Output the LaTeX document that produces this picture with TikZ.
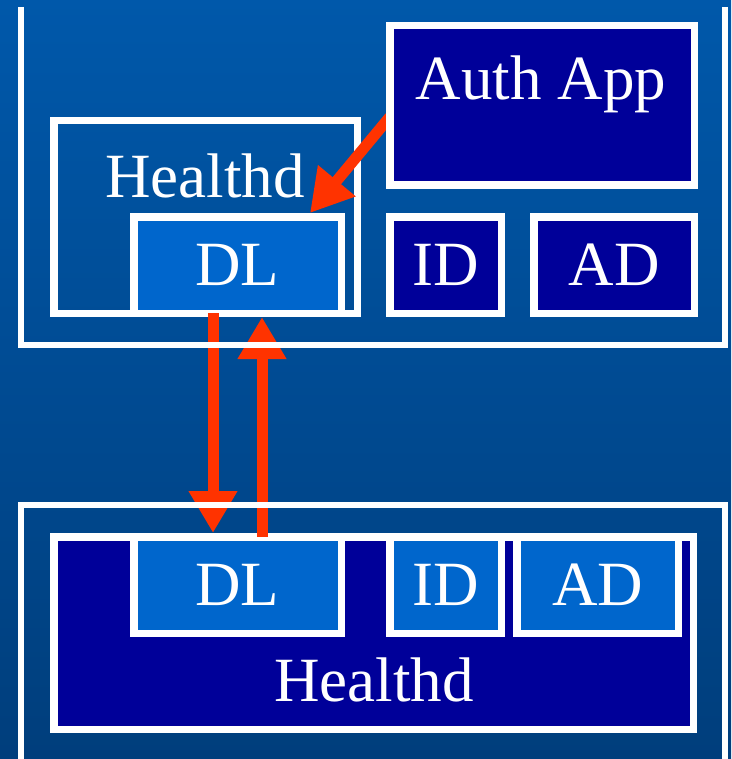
\documentclass[tikz,border=0pt]{standalone}
\usepackage{fontspec}
\setmainfont{Liberation Serif}
\usetikzlibrary{arrows.meta}
\definecolor{bgtop}{RGB}{0,88,170}
\definecolor{bgbot}{RGB}{0,62,124}
\definecolor{navy}{RGB}{0,0,153}
\definecolor{dlblue}{RGB}{0,102,204}
\definecolor{flowred}{RGB}{255,51,0}
\tikzset{
  box/.style={draw=white, line width=7.5pt, inner sep=0pt, outer sep=0pt,
    text=white, font=\fontsize{63}{70}\selectfont},
  lbl/.style={text=white, font=\fontsize{63}{70}\selectfont, inner sep=0pt, anchor=base},
  frameline/.style={draw=white, line width=5.5pt, line join=miter},
  flow/.style={draw=flowred, line width=11pt, -{Triangle[length=42pt,width=46pt]}},
}
\begin{document}
\begin{tikzpicture}[x=1pt,y=-1pt]
  % background
  \shade[top color=bgtop, bottom color=bgbot] (0,0) rectangle (731,759);
  \useasboundingbox (0,0) rectangle (731,759);

  % upper host
  \node[box, minimum width=303.5pt, minimum height=192.5pt] (upHealthd) at (205.5,217) {};
  \node[lbl] (upHealthdTxt) at (205,197) {Healthd};
  \node[box, fill=dlblue, minimum width=207.5pt, minimum height=96.5pt] (upDL) at (237.5,265) {DL};
  \node[box, fill=navy, minimum width=111.5pt, minimum height=96.5pt] (upID) at (445.5,265) {ID};
  \node[box, fill=navy, minimum width=160.5pt, minimum height=96.5pt] (upAD) at (614,265) {AD};

  % lower host
  \node[box, fill=navy, minimum width=639.5pt, minimum height=192.5pt] (loHealthd) at (373.5,633) {};
  \node[lbl] (loHealthdTxt) at (374,701) {Healthd};
  \node[box, fill=dlblue, minimum width=207.5pt, minimum height=96.5pt] (loDL) at (237.5,585) {DL};
  \node[box, fill=dlblue, minimum width=111.5pt, minimum height=96.5pt] (loID) at (445.5,585) {ID};
  \node[box, fill=dlblue, minimum width=161.5pt, minimum height=96.5pt] (loAD) at (597.5,585) {AD};

  % flows between the data layers
  \draw[flow] ([xshift=-24.5pt]upDL.south) -- ([xshift=-24.5pt,yshift=3.75pt]loDL.north);
  \draw[flow] ([xshift=24.5pt]loDL.north) -- ([xshift=24.5pt,yshift=-3.75pt]upDL.south);

  % host frames
  \draw[frameline] (21,7) -- (21,345) -- (725,345) -- (725,7);
  \draw[frameline] (21,762) -- (21,505) -- (725,505) -- (725,762);

  % auth application; its border is redrawn over the start of the request arrow
  \node[box, fill=navy, minimum width=304.5pt, minimum height=159.5pt] (auth) at (542,105.5) {};
  \draw[flow] ([yshift=-11.5pt]auth.west) -- ([xshift=72.5pt,yshift=3.75pt]upDL.north);
  \draw[draw=white, line width=7.5pt] (auth.north west) rectangle (auth.south east);
  \node[lbl] (authTxt) at (541,100) {Auth App};
\end{tikzpicture}
\end{document}
